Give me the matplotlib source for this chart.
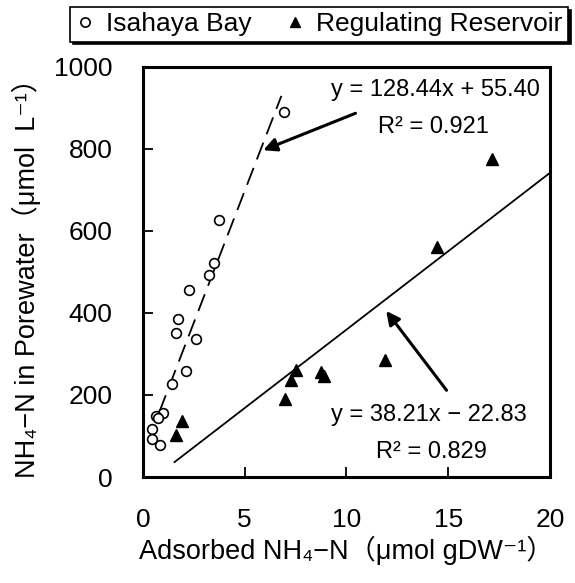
import matplotlib
matplotlib.use("Agg")
import matplotlib.pyplot as plt
import numpy as np

plt.rcParams['font.family'] = ['Liberation Sans', 'DejaVu Sans', 'Noto Sans CJK JP']

# Isahaya Bay (open circles)
bay_x = [6.93, 3.72, 3.51, 3.24, 2.26, 1.71, 1.61, 2.58, 2.12, 1.42, 1.00, 0.64, 0.76, 0.44, 0.44, 0.84]
bay_y = [890, 627, 522, 493, 455, 384, 351, 336, 259, 227, 155, 149, 144, 117, 92, 78]

# Regulating Reservoir (filled triangles)
res_x = [1.61, 1.94, 6.96, 7.26, 7.54, 8.77, 8.87, 11.87, 14.47, 17.14]
res_y = [103, 137, 190, 237, 261, 255, 247, 286, 561, 776]

# regression lines
bay_fit = (128.44, 55.40)
bay_range = [0.8, 6.8]
res_fit = (38.21, -22.83)
res_range = [1.55, 20]

x_ticks = [0, 5, 10, 15, 20]
y_ticks = [0, 200, 400, 600, 800, 1000]

fig = plt.figure(figsize=(5.75, 5.83), dpi=100)
ax = fig.add_axes([0.2487, 0.1818, 0.9565 - 0.2487, 0.8856 - 0.1818])

xb = np.array(bay_range)
ax.plot(xb, bay_fit[0] * xb + bay_fit[1], color='black', lw=1.3, dashes=[10, 5])
xr = np.array(res_range)
ax.plot(xr, res_fit[0] * xr + res_fit[1], color='black', lw=1.3)

ax.plot(bay_x, bay_y, 'o', mfc='white', mec='black', mew=1.2, ms=7, label='Isahaya Bay',
        clip_on=False)
ax.plot(res_x, res_y, '^', color='black', ms=8, label='Regulating Reservoir', clip_on=False)

ax.set_xlim(0, 20)
ax.set_ylim(0, 1000)
ax.set_xticks(x_ticks)
ax.set_yticks(y_ticks)
ax.tick_params(direction='in', length=7, width=1.3, labelsize=19, pad=22,
               top=False, right=False)
for s in ax.spines.values():
    s.set_linewidth(2.2)

ax.set_xlabel('Adsorbed NH₄−N（μmol gDW⁻¹）', fontsize=19.5, labelpad=3)
ax.set_ylabel('NH₄−N in Porewater（μmol  L⁻¹）', fontsize=19.5, labelpad=9)

# equations and arrows
ax.text(14.35, 943, 'y = 128.44x + 55.40', fontsize=17, ha='center', va='center')
ax.text(14.25, 852, 'R² = 0.921', fontsize=17, ha='center', va='center')
ax.annotate('', xy=(5.78, 794), xytext=(10.57, 889),
            arrowprops=dict(arrowstyle='-|>', color='black', lw=2.2, mutation_scale=20))

ax.text(14.05, 152, 'y = 38.21x − 22.83', fontsize=17, ha='center', va='center')
ax.text(14.15, 61, 'R² = 0.829', fontsize=17, ha='center', va='center')
ax.annotate('', xy=(11.87, 410), xytext=(15.0, 206),
            arrowprops=dict(arrowstyle='-|>', color='black', lw=2.2, mutation_scale=20))

leg = fig.legend(loc='upper right', bbox_to_anchor=(0.997, 0.997), ncol=2, fontsize=19,
                 frameon=True, fancybox=False, shadow={'color': 'black', 'alpha': 1},
                 handlelength=0.7, handletextpad=0.45, columnspacing=1.3, markerscale=0.95,
                 borderpad=0.2, borderaxespad=0.2, edgecolor='black')
leg.get_frame().set_linewidth(1.2)

fig.savefig('out.png', dpi=100)
